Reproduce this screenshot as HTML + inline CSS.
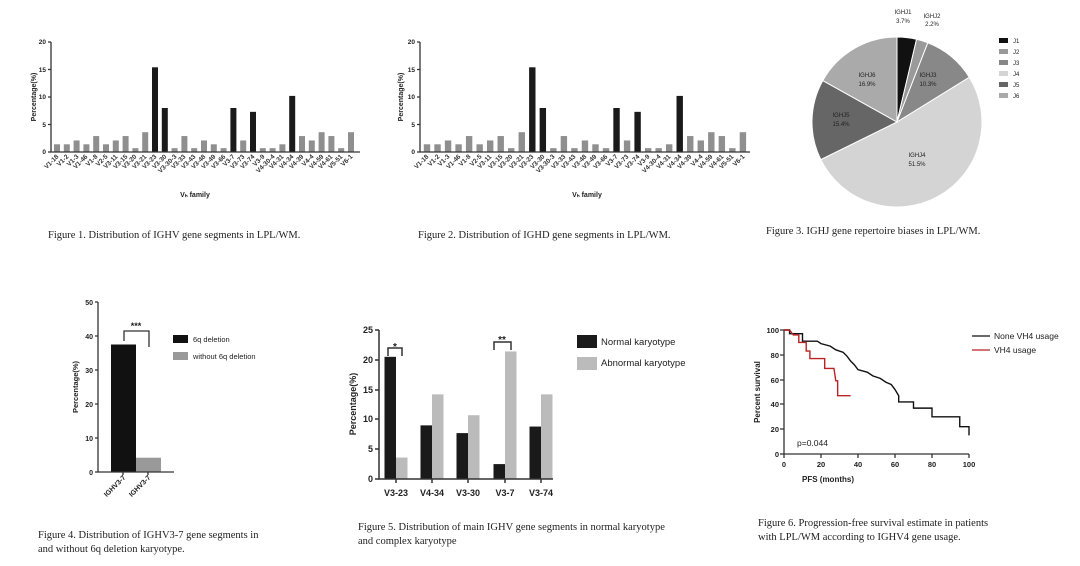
<!DOCTYPE html>
<html><head><meta charset="utf-8"><style>
html,body{margin:0;padding:0;background:#fff;}
svg{display:block;}
.s{font-family:"Liberation Sans",sans-serif;fill:#222;}
.cap{font-family:"Liberation Serif",serif;font-size:10.5px;fill:#222;}
.tl{font-family:"Liberation Sans",sans-serif;font-size:6.5px;font-weight:bold;fill:#333;}
</style></head><body>
<svg id="c" width="1080" height="566" viewBox="0 0 1080 566" xmlns="http://www.w3.org/2000/svg">
<g id="g1"></g>
<g stroke="#333" stroke-width="1.3" fill="none">
<path d="M51,42V152H360"/><path d="M48,42H51M48,69.5H51M48,97H51M48,124.5H51M48,152H51"/>
<path d="M420,42V152H750"/><path d="M417,42H420M417,69.5H420M417,97H420M417,124.5H420M417,152H420"/>
</g>
<g class="s" font-size="6.5" font-weight="bold" text-anchor="end">
<text x="46" y="44">20</text><text x="46" y="72">15</text><text x="46" y="99">10</text><text x="46" y="127">5</text><text x="46" y="154">0</text>
<text x="415" y="44">20</text><text x="415" y="72">15</text><text x="415" y="99">10</text><text x="415" y="127">5</text><text x="415" y="154">0</text>
</g>
<text class="s" font-size="7" font-weight="bold" transform="translate(36,97) rotate(-90)" text-anchor="middle">Percentage(%)</text>
<text class="s" font-size="7" font-weight="bold" transform="translate(403,97) rotate(-90)" text-anchor="middle">Percentage(%)</text>
<text class="s" font-size="7" font-weight="bold" x="195" y="197" text-anchor="middle">Vₕ family</text>
<text class="s" font-size="7" font-weight="bold" x="587" y="197" text-anchor="middle">Vₕ family</text>
<g class="tl" text-anchor="end">
<text transform="translate(59,157) rotate(-45)">V1-18</text><text transform="translate(69,157) rotate(-45)">V1-2</text><text transform="translate(79,157) rotate(-45)">V1-3</text><text transform="translate(88,157) rotate(-45)">V1-46</text><text transform="translate(98,157) rotate(-45)">V1-8</text><text transform="translate(108,157) rotate(-45)">V2-5</text><text transform="translate(118,157) rotate(-45)">V3-11</text><text transform="translate(128,157) rotate(-45)">V3-15</text><text transform="translate(137,157) rotate(-45)">V3-20</text><text transform="translate(147,157) rotate(-45)">V3-21</text><text transform="translate(157,157) rotate(-45)">V3-23</text><text transform="translate(167,157) rotate(-45)">V3-30</text><text transform="translate(177,157) rotate(-45)">V3-30-3</text><text transform="translate(186,157) rotate(-45)">V3-33</text><text transform="translate(196,157) rotate(-45)">V3-43</text><text transform="translate(206,157) rotate(-45)">V3-48</text><text transform="translate(216,157) rotate(-45)">V3-49</text><text transform="translate(226,157) rotate(-45)">V3-66</text><text transform="translate(235,157) rotate(-45)">V3-7</text><text transform="translate(245,157) rotate(-45)">V3-73</text><text transform="translate(255,157) rotate(-45)">V3-74</text><text transform="translate(265,157) rotate(-45)">V3-9</text><text transform="translate(275,157) rotate(-45)">V4-30-4</text><text transform="translate(284,157) rotate(-45)">V4-31</text><text transform="translate(294,157) rotate(-45)">V4-34</text><text transform="translate(304,157) rotate(-45)">V4-39</text><text transform="translate(314,157) rotate(-45)">V4-4</text><text transform="translate(324,157) rotate(-45)">V4-59</text><text transform="translate(333,157) rotate(-45)">V4-61</text><text transform="translate(343,157) rotate(-45)">V5-51</text><text transform="translate(353,157) rotate(-45)">V6-1</text>
<text transform="translate(429,157) rotate(-45)">V1-18</text><text transform="translate(440,157) rotate(-45)">V1-2</text><text transform="translate(450,157) rotate(-45)">V1-3</text><text transform="translate(461,157) rotate(-45)">V1-46</text><text transform="translate(471,157) rotate(-45)">V1-8</text><text transform="translate(482,157) rotate(-45)">V2-5</text><text transform="translate(492,157) rotate(-45)">V3-11</text><text transform="translate(503,157) rotate(-45)">V3-15</text><text transform="translate(513,157) rotate(-45)">V3-20</text><text transform="translate(524,157) rotate(-45)">V3-21</text><text transform="translate(534,157) rotate(-45)">V3-23</text><text transform="translate(545,157) rotate(-45)">V3-30</text><text transform="translate(555,157) rotate(-45)">V3-30-3</text><text transform="translate(566,157) rotate(-45)">V3-33</text><text transform="translate(576,157) rotate(-45)">V3-43</text><text transform="translate(587,157) rotate(-45)">V3-48</text><text transform="translate(597,157) rotate(-45)">V3-49</text><text transform="translate(608,157) rotate(-45)">V3-66</text><text transform="translate(618,157) rotate(-45)">V3-7</text><text transform="translate(629,157) rotate(-45)">V3-73</text><text transform="translate(640,157) rotate(-45)">V3-74</text><text transform="translate(650,157) rotate(-45)">V3-9</text><text transform="translate(661,157) rotate(-45)">V4-30-4</text><text transform="translate(671,157) rotate(-45)">V4-31</text><text transform="translate(682,157) rotate(-45)">V4-34</text><text transform="translate(692,157) rotate(-45)">V4-39</text><text transform="translate(703,157) rotate(-45)">V4-4</text><text transform="translate(713,157) rotate(-45)">V4-59</text><text transform="translate(724,157) rotate(-45)">V4-61</text><text transform="translate(734,157) rotate(-45)">V5-51</text><text transform="translate(745,157) rotate(-45)">V6-1</text>
</g>
<text class="cap" x="48" y="238">Figure 1. Distribution of IGHV gene segments in LPL/WM.</text>
<text class="cap" x="418" y="238">Figure 2. Distribution of IGHD gene segments in LPL/WM.</text>
<text class="cap" x="766" y="234">Figure 3. IGHJ gene repertoire biases in LPL/WM.</text>

<g id="pie"></g>
<g class="s" font-size="6" text-anchor="middle">
<text x="903" y="14">IGHJ1</text><text x="903" y="23">3.7%</text>
<text x="932" y="18">IGHJ2</text><text x="932" y="26">2.2%</text>
<text x="867" y="77">IGHJ6</text><text x="867" y="86">16.9%</text>
<text x="928" y="77">IGHJ3</text><text x="928" y="86">10.3%</text>
<text x="841" y="117">IGHJ5</text><text x="841" y="126">15.4%</text>
<text x="917" y="157">IGHJ4</text><text x="917" y="166">51.5%</text>
</g>
<g>
<rect x="999" y="38" width="9" height="5" fill="#111"/><rect x="999" y="49" width="9" height="5" fill="#9a9a9a"/><rect x="999" y="60" width="9" height="5" fill="#888"/><rect x="999" y="71" width="9" height="5" fill="#d4d4d4"/><rect x="999" y="82" width="9" height="5" fill="#666"/><rect x="999" y="93" width="9" height="5" fill="#aaa"/>
</g>
<g class="s" font-size="6">
<text x="1013" y="43">J1</text><text x="1013" y="54">J2</text><text x="1013" y="65">J3</text><text x="1013" y="76">J4</text><text x="1013" y="87">J5</text><text x="1013" y="98">J6</text>
</g>

<rect x="111" y="344.5" width="25" height="127.5" fill="#111"/>
<rect x="136" y="457.7" width="25" height="14.3" fill="#999"/>
<g stroke="#333" stroke-width="1.3" fill="none">
<path d="M98,302V472H174"/><path d="M95,302H98M95,336H98M95,370H98M95,404H98M95,438H98M95,472H98M123,472V475M148,472V475"/>
<path d="M124,341V331H149V347"/>
</g>
<text class="s" font-size="9" font-weight="bold" x="136" y="329" text-anchor="middle">***</text>
<g class="s" font-size="7" font-weight="bold" text-anchor="end">
<text x="93" y="305">50</text><text x="93" y="339">40</text><text x="93" y="373">30</text><text x="93" y="407">20</text><text x="93" y="441">10</text><text x="93" y="475">0</text>
<text transform="translate(126,478) rotate(-45)">IGHV3-7</text><text transform="translate(151,478) rotate(-45)">IGHV3-7</text>
</g>
<text class="s" font-size="7.5" font-weight="bold" transform="translate(78,387) rotate(-90)" text-anchor="middle">Percentage(%)</text>
<rect x="173" y="335" width="15" height="8" fill="#111"/><rect x="173" y="352" width="15" height="8" fill="#999"/>
<g class="s" font-size="7.5"><text x="193" y="342">6q deletion</text><text x="193" y="359">without 6q deletion</text></g>
<text class="cap" x="38" y="538">Figure 4. Distribution of IGHV3-7 gene segments in</text>
<text class="cap" x="38" y="552">and  without 6q deletion karyotype.</text>

<g id="g5"></g>
<g stroke="#333" stroke-width="1.5" fill="none">
<path d="M379,330V479H553"/><path d="M375,330H379M375,360H379M375,390H379M375,419H379M375,449H379M375,479H379"/>
<path d="M396,479V483M432,479V483M468,479V483M505,479V483M541,479V483"/>
<path d="M388,356V348H402V356"/><path d="M494,350V342H511V350"/>
</g>
<text class="s" font-size="10" font-weight="bold" x="395" y="350" text-anchor="middle">*</text>
<text class="s" font-size="10" font-weight="bold" x="502" y="343" text-anchor="middle">**</text>
<g class="s" font-size="9" font-weight="bold" text-anchor="end">
<text x="373" y="333">25</text><text x="373" y="363">20</text><text x="373" y="393">15</text><text x="373" y="422">10</text><text x="373" y="452">5</text><text x="373" y="482">0</text>
</g>
<g class="s" font-size="9" font-weight="bold" text-anchor="middle">
<text x="396" y="496">V3-23</text><text x="432" y="496">V4-34</text><text x="468" y="496">V3-30</text><text x="505" y="496">V3-7</text><text x="541" y="496">V3-74</text>
</g>
<text class="s" font-size="9" font-weight="bold" transform="translate(356,404) rotate(-90)" text-anchor="middle">Percentage(%)</text>
<rect x="577" y="335" width="20" height="13" fill="#1a1a1a"/><rect x="577" y="357" width="20" height="13" fill="#bbb"/>
<g class="s" font-size="9.5"><text x="601" y="345">Normal karyotype</text><text x="601" y="366">Abnormal karyotype</text></g>
<text class="cap" x="358" y="530">Figure 5. Distribution of main IGHV gene segments in normal karyotype</text>
<text class="cap" x="358" y="544">and complex karyotype</text>

<g stroke="#333" stroke-width="1.3" fill="none">
<path d="M784,330V454H969"/><path d="M780,330H784M780,355H784M780,380H784M780,404H784M780,429H784M780,454H784"/>
<path d="M784,454V458M821,454V458M858,454V458M895,454V458M932,454V458M969,454V458"/>
</g>
<g id="km"></g>
<g class="s" font-size="7.5" font-weight="bold" text-anchor="end">
<text x="779" y="333">100</text><text x="779" y="358">80</text><text x="779" y="383">60</text><text x="779" y="407">40</text><text x="779" y="432">20</text><text x="779" y="457">0</text>
</g>
<g class="s" font-size="7.5" font-weight="bold" text-anchor="middle">
<text x="784" y="467">0</text><text x="821" y="467">20</text><text x="858" y="467">40</text><text x="895" y="467">60</text><text x="932" y="467">80</text><text x="969" y="467">100</text>
<text x="828" y="482" font-size="8">PFS (months)</text>
</g>
<text class="s" font-size="8" font-weight="bold" transform="translate(760,392) rotate(-90)" text-anchor="middle">Percent survival</text>
<text class="s" font-size="8.5" fill="#555" x="797" y="446">p=0.044</text>
<path d="M972,336H990" stroke="#111" stroke-width="1.3"/><path d="M972,350H990" stroke="#b22" stroke-width="1.3"/>
<g class="s" font-size="8.5"><text x="994" y="339">None VH4 usage</text><text x="994" y="353">VH4 usage</text></g>
<text class="cap" x="758" y="526">Figure 6. Progression-free survival estimate in patients</text>
<text class="cap" x="758" y="540">with LPL/WM according to IGHV4 gene usage.</text>
</svg>
<script>
var NS="http://www.w3.org/2000/svg";
function el(p,t,a){var e=document.createElementNS(NS,t);for(var k in a)e.setAttribute(k,a[k]);p.appendChild(e);return e;}
var v=[1.4,1.4,2.1,1.4,2.9,1.4,2.1,2.9,0.7,3.6,15.4,8.0,0.7,2.9,0.7,2.1,1.4,0.7,8.0,2.1,7.3,0.7,0.7,1.4,10.2,2.9,2.1,3.6,2.9,0.7,3.6];
var dark={10:1,11:1,18:1,20:1,24:1};
var g1=document.getElementById("g1");
v.forEach(function(val,i){var h=val*5.5;var c=dark[i]?"#1a1a1a":"#8f8f8f";
el(g1,"rect",{x:57+9.8*i-3,y:152-h,width:6,height:h,fill:c});
el(g1,"rect",{x:427+10.53*i-3.2,y:152-h,width:6.4,height:h,fill:c});});
var pie=document.getElementById("pie"),cx=897,cy=122,r=85,cum=0;
[[3.7,"#111"],[2.2,"#9a9a9a"],[10.3,"#888"],[51.5,"#d4d4d4"],[15.4,"#666"],[16.9,"#aaa"]].forEach(function(s){
var a0=cum/100*2*Math.PI,a1=(cum+s[0])/100*2*Math.PI;cum+=s[0];
var x0=cx+r*Math.sin(a0),y0=cy-r*Math.cos(a0),x1=cx+r*Math.sin(a1),y1=cy-r*Math.cos(a1);
el(pie,"path",{d:"M"+cx+","+cy+"L"+x0+","+y0+"A"+r+","+r+" 0 "+(s[0]>50?1:0)+" 1 "+x1+","+y1+"Z",fill:s[1],stroke:"#fff","stroke-width":1});});
var g5=document.getElementById("g5"),cs=[396,432,468,505,541],d=[20.5,9,7.7,2.5,8.8],l=[3.6,14.2,10.7,21.4,14.2];
cs.forEach(function(c,i){el(g5,"rect",{x:c-11.5,y:479-d[i]*5.96,width:11.5,height:d[i]*5.96,fill:"#1a1a1a"});
el(g5,"rect",{x:c,y:479-l[i]*5.96,width:11.5,height:l[i]*5.96,fill:"#bbb"});});
var km=document.getElementById("km");
function pts(a){return a.map(function(p){return (784+1.85*p[0])+","+(454-1.24*p[1]);}).join(" ");}
var b=[[0,100],[3,100],[3,97],[10,97],[10,91],[18,91],[20,89],[25,87],[28,84],[32,82],[34,79],[36,75],[38,72],[40,68],[45,66],[48,63],[52,61],[55,58],[58,56],[60,52],[62,47],[62,42],[70,42],[70,37],[80,37],[80,30],[95,30],[95,22],[100,22],[100,15]];
var rr=[[0,100],[3,100],[5,96],[8,96],[8,90],[12,90],[12,83],[14,83],[14,77],[22,77],[22,69],[27,69],[28,59],[29,59],[29,47],[36,47]];
el(km,"polyline",{points:pts(b),fill:"none",stroke:"#111","stroke-width":1.4});
el(km,"polyline",{points:pts(rr),fill:"none",stroke:"#b22","stroke-width":1.4});
</script>
</body></html>
